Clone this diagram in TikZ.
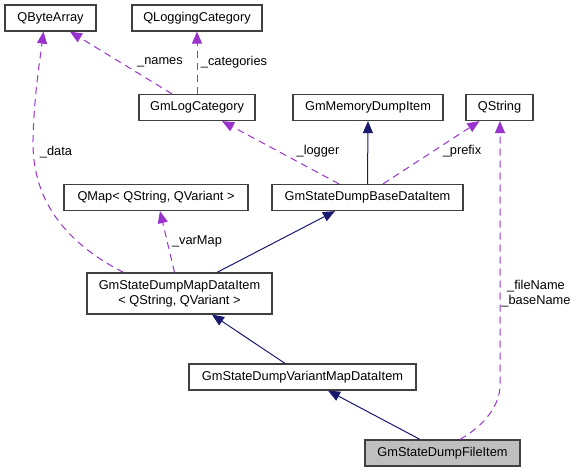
\documentclass[tikz,border=0pt]{standalone}
\usepackage{fontspec}
\setmainfont{Liberation Sans}
\usetikzlibrary{arrows.meta}
\definecolor{boxline}{HTML}{404040}
\definecolor{usecol}{HTML}{9A32CD}
\definecolor{inhcol}{HTML}{191970}
\definecolor{curfill}{HTML}{BFBFBF}
\begin{document}
\begin{tikzpicture}[x=1pt,y=-1pt,
  cls/.style={draw=boxline, line width=1.2pt, fill=white, inner sep=0pt, align=center,
    font=\fontsize{12.8}{15}\selectfont},
  uses/.style={draw=usecol, line width=1pt, dash pattern=on 7pt off 5pt,
    -{Triangle[length=12pt,width=10pt,fill=usecol]}},
  inh/.style={draw=inhcol, line width=1pt, -{Triangle[length=12pt,width=10pt,fill=inhcol]}},
  lbl/.style={font=\fontsize{12.8}{15}\selectfont, inner sep=0pt, align=center}]
\useasboundingbox (0,0) rectangle (576,472);
\fill[white] (0,0) rectangle (576,472);
% nodes
\node[cls, minimum width=91pt, minimum height=26pt] (qba) at (50.5,18) {QByteArray};
\node[cls, minimum width=130pt, minimum height=26pt] (qlc) at (197,18) {QLoggingCategory};
\node[cls, minimum width=116pt, minimum height=26pt] (glc) at (197,107.5) {GmLogCategory};
\node[cls, minimum width=150pt, minimum height=26pt] (gmd) at (368,107.5) {GmMemoryDumpItem};
\node[cls, minimum width=67pt, minimum height=26pt] (qs) at (499.5,107.5) {QString};
\node[cls, minimum width=191pt, minimum height=26pt] (base) at (367.5,197.5) {GmStateDumpBaseDataItem};
\node[cls, minimum width=184pt, minimum height=26pt] (qmap) at (156,197.5) {QMap\textless{} QString, QVariant \textgreater{}};
\node[cls, minimum width=185pt, minimum height=41pt] (map) at (179.5,293.5) {GmStateDumpMapDataItem\\\textless{} QString, QVariant \textgreater{}};
\node[cls, minimum width=227pt, minimum height=26pt] (var) at (302.5,377) {GmStateDumpVariantMapDataItem};
\node[cls, fill=curfill, minimum width=155pt, minimum height=26pt] (file) at (442.5,453) {GmStateDumpFileItem};
% edges
\draw[uses] ([xshift=-25pt]glc.north) -- ([xshift=19.5pt]qba.south);
\node[lbl] (lnames) at (160,62) {\_names};
\draw[uses] (glc.north) -- (qlc.south);
\node[lbl] (lcat) at (234,62) {\_categories};
\draw[uses] ([xshift=-28.5pt]base.north) -- ([xshift=25pt]glc.south);
\node[lbl] (llog) at (318,151) {\_logger};
\draw[inh] (base.north) -- (gmd.south);
\draw[uses] ([xshift=15.5pt]base.north) -- ([xshift=-20pt]qs.south);
\node[lbl] (lpre) at (462,151) {\_prefix};
\draw[uses] ([xshift=-56pt]map.north) .. controls (60,240) and (32,195) .. (33,140)
  .. controls (34,95) and (40,60) .. ([xshift=-7pt]qba.south);
\node[lbl] (ldata) at (56,152) {\_data};
\draw[uses] ([xshift=-5pt]map.north) -- ([xshift=4pt]qmap.south);
\node[lbl] (lvar) at (197,241) {\_varMap};
\draw[inh] ([xshift=37.5pt]map.north) -- ([xshift=-32.5pt]base.south);
\draw[inh] ([xshift=-17.5pt]var.north) -- ([xshift=32.5pt]map.south);
\draw[inh] ([xshift=-22.5pt]file.north) -- ([xshift=25.5pt]var.south);
\draw[uses] ([xshift=17.5pt]file.north) .. controls (485,425) and (500,405) .. (500,385)
  -- ([xshift=0.5pt]qs.south);
\node[lbl] (lfile) at (536,293.5) {\_fileName\\\_baseName};
\end{tikzpicture}
\end{document}
